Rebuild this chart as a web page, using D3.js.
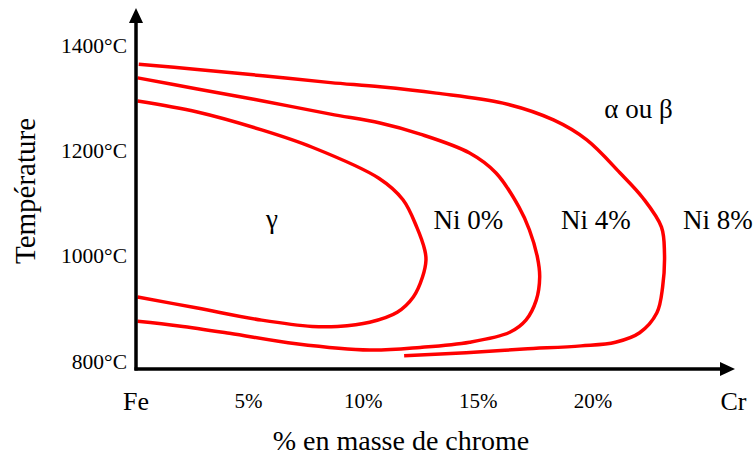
<!DOCTYPE html>
<html>
<head>
<meta charset="utf-8">
<script src="https://cdn.jsdelivr.net/npm/d3@7"></script>
<style>
    html, body { margin: 0; padding: 0; background: #fff; }
    svg { display: block; font-family: "Liberation Serif", "Times New Roman", serif; }
</style>
</head>
<body>
<div id="chart"></div>
<script>
// Domaine gamma du diagramme Fe-Cr selon la teneur en nickel
// chaque courbe : [% Cr, température °C]
var ni0 = [
    [0.2, 1295], [2.8, 1274], [5.6, 1240], [7.8, 1207], [10.7, 1148],
    [11.75, 1107], [12.35, 1055], [12.7, 1011], [12.75, 992], [12.6, 960], [12.2, 922],
    [11.5, 893], [10.3, 874], [8.9, 866], [7.8, 866], [5.6, 878], [2.8, 901], [0.2, 922]
];
var ni4 = [
    [0.2, 1339], [2.8, 1318], [5.65, 1295], [8.6, 1270], [10.75, 1253], [12.5, 1232],
    [14.65, 1196], [15.8, 1158], [16.8, 1093], [17.25, 1050], [17.6, 998], [17.7, 960],
    [17.55, 916], [17.1, 878], [16.4, 855], [14.65, 836], [12.5, 826], [10.3, 821],
    [7.1, 833], [4.2, 853], [2.0, 867], [0.2, 876]
];
var ni8 = [
    [0.25, 1365], [2.8, 1355], [5.65, 1343], [8.6, 1330], [10.75, 1322], [13.2, 1310],
    [16.1, 1291], [18.3, 1259], [19.75, 1221], [21.2, 1158], [22.2, 1110], [23.0, 1055],
    [23.13, 1006], [23.05, 941], [22.8, 892], [22.05, 854], [21.0, 836], [19.5, 829],
    [17.0, 823], [14.5, 816], [11.8, 810]
];
var curves = [ni0, ni4, ni8];

var tempTicks = [800, 1000, 1200, 1400];
var crTicks = [0, 5, 10, 15, 20, 26];
var crTickLabels = ['Fe', '5%', '10%', '15%', '20%', 'Cr'];

// étiquettes des domaines : [% Cr, température, texte]
var phaseLabels = [
    [6.05, 1053, 'γ'],
    [14.6, 1051, 'Ni 0%'],
    [20.15, 1051, 'Ni 4%'],
    [25.45, 1051, 'Ni 8%'],
    [22.0, 1263, 'α ou β']
];

var width = 753, height = 458;
var axisX = 136, axisY = 369;

var x = d3.scaleLinear().domain([0, 26.2]).range([133, 735]);
var y = d3.scaleLinear().domain([785, 1472]).range([axisY, 8]);

var svg = d3.select('#chart')
    .append('svg')
    .attr('width', width)
    .attr('height', height);

// courbes rouges
var line = d3.line()
    .x(function(d) { return x(d[0]); })
    .y(function(d) { return y(d[1]); })
    .curve(d3.curveCatmullRom.alpha(0.5));

svg.selectAll('path.curve')
    .data(curves)
    .enter()
    .append('path')
    .attr('class', 'curve')
    .attr('d', line)
    .attr('fill', 'none')
    .attr('stroke', '#ff0000')
    .attr('stroke-width', 3.5)
    .attr('stroke-linecap', 'butt');

// axe des températures
var yAxis = d3.axisLeft(y)
    .tickValues(tempTicks)
    .tickSize(0)
    .tickPadding(9)
    .tickFormat(function(d) { return d + '°C'; });

var gy = svg.append('g')
    .attr('transform', 'translate(' + axisX + ',0)')
    .call(yAxis);
gy.select('.domain').remove();
gy.selectAll('text')
    .style('font-family', '"Liberation Serif", serif')
    .style('font-size', '21.5px')
    .attr('fill', '#000');

// axe du chrome
var xAxis = d3.axisBottom(x)
    .tickValues(crTicks)
    .tickSize(0)
    .tickFormat(function(d, i) { return crTickLabels[i]; });

var gx = svg.append('g')
    .attr('transform', 'translate(0,' + axisY + ')')
    .call(xAxis);
gx.select('.domain').remove();
gx.selectAll('text')
    .attr('dy', null)
    .attr('y', function(d, i) { return (i == 0 || i == crTicks.length - 1) ? 41 : 39; })
    .attr('fill', '#000')
    .style('font-family', '"Liberation Serif", serif')
    .style('font-size', function(d, i) { return (i == 0 || i == crTicks.length - 1) ? '26px' : '21px'; });
gx.selectAll('.tick')
    .filter(function(d, i) { return i == 0; })
    .attr('transform', 'translate(' + axisX + ',0)');
gx.selectAll('.tick')
    .filter(function(d, i) { return i == crTicks.length - 1; })
    .attr('transform', 'translate(' + (x(26) + 3) + ',0)');

// lignes d'axes avec flèches
var xEnd = x.range()[1], yTop = y.range()[1];
svg.append('line')
    .attr('x1', axisX).attr('y1', axisY + 1.5)
    .attr('x2', axisX).attr('y2', yTop + 12)
    .attr('stroke', '#000').attr('stroke-width', 3.5);
svg.append('line')
    .attr('x1', axisX - 1.5).attr('y1', axisY)
    .attr('x2', xEnd - 12).attr('y2', axisY)
    .attr('stroke', '#000').attr('stroke-width', 3.5);
svg.append('path')
    .attr('d', 'M' + axisX + ',' + yTop + 'L' + (axisX - 7) + ',' + (yTop + 15) + 'L' + (axisX + 7) + ',' + (yTop + 15) + 'Z')
    .attr('fill', '#000');
svg.append('path')
    .attr('d', 'M' + xEnd + ',' + axisY + 'L' + (xEnd - 15) + ',' + (axisY - 7) + 'L' + (xEnd - 15) + ',' + (axisY + 7) + 'Z')
    .attr('fill', '#000');

// titres des axes
svg.append('text')
    .attr('x', 401)
    .attr('y', 450)
    .attr('text-anchor', 'middle')
    .style('font-size', '28px')
    .text('% en masse de chrome');

svg.append('text')
    .attr('transform', 'translate(35,191) rotate(-90)')
    .attr('text-anchor', 'middle')
    .style('font-size', '29px')
    .text('Température');

// étiquettes des domaines
svg.selectAll('text.phase')
    .data(phaseLabels)
    .enter()
    .append('text')
    .attr('class', 'phase')
    .attr('x', function(d) { return x(d[0]); })
    .attr('y', function(d) { return y(d[1]); })
    .attr('text-anchor', 'middle')
    .style('font-size', '27px')
    .text(function(d) { return d[2]; });
</script>
</body>
</html>
